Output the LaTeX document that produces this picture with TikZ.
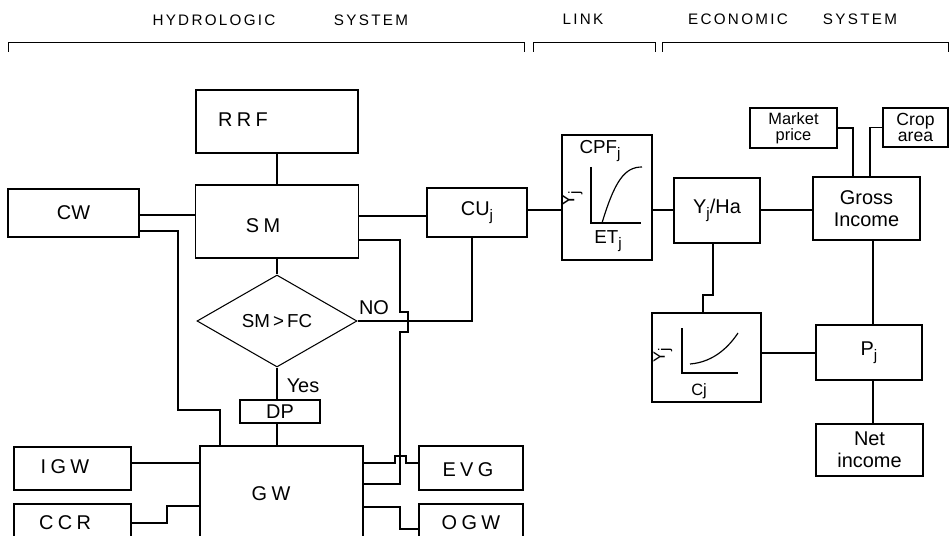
\documentclass[tikz,border=0pt]{standalone}
\usepackage{fontspec}
\setmainfont{Liberation Sans}
\newfontfamily\spaced[LetterSpace=22]{Liberation Sans}
\newfontfamily\headfont[LetterSpace=15]{Liberation Sans}
\usepackage{tikz}
\usetikzlibrary{
  arrows.meta,
  calc,
  positioning,
  shapes.geometric
}
\tikzset{>=stealth}
\tikzset{
  box/.style 2 args={draw, line width=0.9pt, inner sep=0pt, align=center,
    minimum width=#1*0.03cm, minimum height=#2*0.03cm,
    font=\fontsize{17}{19}\selectfont},
  link/.style={line width=0.9pt},
  tag/.style={inner sep=0pt, font=\fontsize{17}{19}\selectfont},
  head/.style={inner sep=0pt, font=\headfont\fontsize{13}{15}\selectfont},
  bracket/.style={line width=0.8pt},
  curve/.style={line width=1pt}
}
\newcommand\sbj[1]{\raisebox{-.5ex}{\fontsize{13}{13}\selectfont #1}}

\begin{document}
\begin{tikzpicture}[x=0.03cm, y=-0.03cm, thin]
		%949 x 536
			\useasboundingbox (0,0) rectangle (949,536);
			\clip (0,0) rectangle (949,536);
			\node[head] (hydro) at (214,20) {HYDROLOGIC};
			\node[head] (hydrosys) at (371,20) {SYSTEM};
			\node[head] (link) at (583,19) {LINK};
			\node[head] (econ) at (738,19) {ECONOMIC};
			\node[head] (econsys) at (860,19) {SYSTEM};
			\draw[bracket] (8,52) |- (524,42) -- (524,52);
			\draw[bracket] (533,52) |- (655,42) -- (655,52);
			\draw[bracket] (662,52) |- (948,42) -- (948,52);
			% hydrologic system
			\node[box={162}{63}] (rrf) at (277,121.5) {};
			\node[tag, font=\spaced\fontsize{17}{19}\selectfont] (rrf-t) at (243,120) {RRF};
			\node[box={163}{73}] (sm) at (277,221.5) {};
			\node[tag, font=\spaced\fontsize{17}{19}\selectfont] (sm-t) at (263,226) {SM};
			\node[box={131}{48}] (cw) at (73.5,213) {CW};
			\node[box={100}{49}] (cu) at (477,212.5) {CU\sbj{j}};
			\node[draw, diamond, line width=0.9pt, inner sep=0pt,
				minimum width=160*0.03cm, minimum height=92*0.03cm,
				font=\fontsize{16}{18}\selectfont] (test) at (277,321) {SM\,>\,FC};
			\node[tag] (no) at (374,308) {NO};
			\node[tag] (yes) at (303,386) {Yes};
			\node[box={80}{23}] (dp) at (280,411.5) {DP};
			\node[box={163}{114}] (gw) at (281.5,503) {};
			\node[tag, font=\spaced\fontsize{17}{19}\selectfont] (gw-t) at (271,494) {GW};
			\node[box={117}{43}] (igw) at (72.5,468.5) {};
			\node[tag, font=\spaced\fontsize{17}{19}\selectfont] (igw-t) at (65,467) {IGW};
			\node[box={117}{56}] (ccr) at (72.5,532) {};
			\node[tag, font=\spaced\fontsize{17}{19}\selectfont] (ccr-t) at (65,523) {CCR};
			\node[box={104}{44}] (evg) at (471,468) {};
			\node[tag, font=\spaced\fontsize{17}{19}\selectfont] (evg-t) at (468,470) {EVG};
			\node[box={104}{56}] (ogw) at (471,532) {};
			\node[tag, font=\spaced\fontsize{17}{19}\selectfont] (ogw-t) at (471,523) {OGW};
			\draw[link] (rrf) -- (sm);
			\draw[link] (sm) -- (test);
			\draw[link] (test.south) -- (test.south |- dp.north);
			\draw[link] (dp.south -| test.south) -- (test.south |- gw.north);
			\draw[link] (cw.east |- 0,215) -- (sm.west |- 0,215);
			\draw[link] (cw.east |- 0,231) -| (178,410) -| (gw.north -| 220,0);
			\draw[link] (sm.east |- 0,216) -- (cu.west |- 0,216);
			\draw[link] (sm.east |- 0,240) -| (400,312) -| (408,332) -| (400,484) -- (gw.east |- 0,484);
			\draw[link] (test.east) -| (cu.south -| 472,0);
			\draw[link] (gw.east |- 0,463) -| (395,456) -| (406,463) -- (evg.west |- 0,463);
			\draw[link] (gw.east |- 0,507) -| (400,529) -- (ogw.west |- 0,529);
			\draw[link] (igw.east |- 0,463) -- (gw.west |- 0,463);
			\draw[link] (ccr.east |- 0,523) -| (167,506) -- (gw.west |- 0,506);
			% link
			\node[box={90}{125}] (cpf) at (607,197.5) {};
			\draw[link] (591,167) |- (641,223);
			\draw[curve] (602,223) .. controls (615,180) and (625,167) .. (642,167);
			\node[tag, font=\fontsize{16}{18}\selectfont] (cpf-t) at (600,151) {CPF\sbj{j}};
			\node[tag, font=\fontsize{16}{18}\selectfont, rotate=90] (cpf-y) at (572,199) {Y\sbj{j}};
			\node[tag, font=\fontsize{16}{18}\selectfont] (cpf-x) at (608,241) {ET\sbj{j}};
			\draw[link] (cu.east |- 0,210) -- (cpf.west |- 0,210);
			% economic system
			\node[box={86}{65}] (yha) at (717,210.5) {Y\sbj{j}/Ha};
			\node[box={107}{63}] (gross) at (866.5,208.5) {Gross\\Income};
			\node[box={87}{40}, font=\fontsize{14}{14}\selectfont] (market) at (793.5,128) {Market\\price};
			\node[box={65}{39}, font=\fontsize{15}{14}\selectfont] (crop) at (915.5,127.5) {Crop\\area};
			\node[box={109}{89}] (cjbox) at (706.5,357.5) {};
			\draw[link] (682,328) |- (738,373);
			\draw[curve] (690,364) .. controls (715,362) and (730,345) .. (738,333);
			\node[tag, font=\fontsize{14}{16}\selectfont, rotate=90] (cj-y) at (663,355) {Y\sbj{j}};
			\node[tag, font=\fontsize{14}{16}\selectfont] (cj-x) at (699,391) {Cj};
			\node[box={106}{55}] (pj) at (869,352.5) {P\sbj{j}};
			\node[box={107}{52}] (net) at (869.5,450) {Net\\income};
			\draw[link] (cpf.east |- 0,210) -- (yha.west |- 0,210);
			\draw[link] (yha.east |- 0,210) -- (gross.west |- 0,210);
			\draw[link] (market.east) -| (gross.north -| 853,0);
			\draw[link] (crop.west) -| (gross.north -| 870,0);
			\draw[link] (gross.south -| 873,0) -- (pj.north -| 873,0);
			\draw[link] (pj.south -| 873,0) -- (net.north -| 873,0);
			\draw[link] (yha.south -| 713,0) -- (713,295) -| (cjbox.north -| 703,0);
			\draw[link] (cjbox.east |- 0,353) -- (pj.west |- 0,353);
		\end{tikzpicture}
\end{document}
